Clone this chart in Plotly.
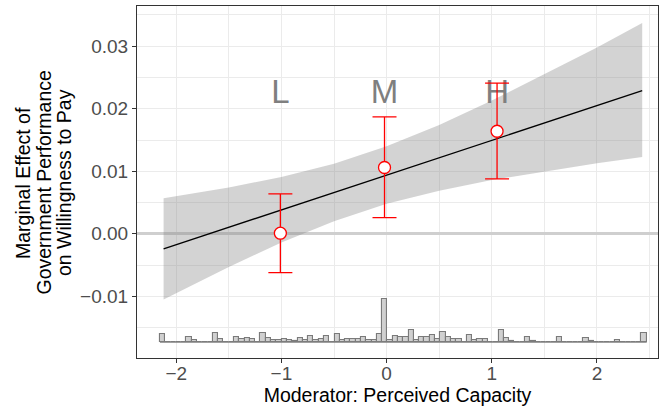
import plotly.graph_objects as go

# ---- data ----
line_x = [-2.12, 2.43]
line_y = [-0.0024, 0.0229]

band_x = [-2.12, -1.5, -1.0, -0.5, 0.0, 0.5, 1.0, 1.5, 2.0, 2.43]
band_lower = [-0.0105, -0.0053, -0.0014, 0.0020, 0.0048, 0.0069, 0.0086, 0.0100, 0.0113, 0.0123]
band_upper = [0.0057, 0.0074, 0.0091, 0.0112, 0.0140, 0.0174, 0.0213, 0.0255, 0.0298, 0.0337]

bin_labels = ["L", "M", "H"]
bin_x = [-1.01, -0.02, 1.05]
bin_est = [0.0001, 0.0106, 0.0164]
bin_lower = [-0.0062, 0.0026, 0.0088]
bin_upper = [0.0064, 0.0187, 0.0241]
label_y = [0.0222, 0.0222, 0.0222]

hist_left = -2.155
hist_width = 0.0503
hist_counts = [12, 0, 0, 0, 0, 8, 3, 0, 0, 0,
               14, 5, 0, 0, 7, 5, 6, 5, 0, 14,
               6, 3, 3, 5, 3, 2, 6, 4, 9, 3,
               5, 9, 1, 12, 3, 5, 5, 5, 7, 3,
               3, 12, 64, 3, 9, 8, 7, 18, 3, 8,
               7, 11, 5, 15, 8, 5, 5, 0, 10, 4,
               5, 5, 0, 0, 18, 6, 2, 0, 0, 8,
               2, 1, 0, 0, 0, 7, 0, 0, 0, 0,
               6, 2, 1, 0, 0, 0, 3, 0, 0, 0,
               0, 13]

x_ticks = [-2, -1, 0, 1, 2]
y_ticks = [-0.01, 0.0, 0.01, 0.02, 0.03]

# ---- derived ----
hist_centers = [hist_left + hist_width * (i + 0.5) for i in range(len(hist_counts))]
hist_end = hist_left + hist_width * len(hist_counts)
err_plus = [u - e for u, e in zip(bin_upper, bin_est)]
err_minus = [e - l for e, l in zip(bin_est, bin_lower)]

FONT = "Liberation Sans, Arial, sans-serif"

fig = go.Figure()

# histogram (secondary axis)
fig.add_trace(go.Scatter(
    x=[hist_left, hist_end], y=[0, 0], yaxis="y2", mode="lines",
    line=dict(color="#808080", width=1.3), hoverinfo="skip", showlegend=False))
fig.add_trace(go.Bar(
    x=hist_centers, y=hist_counts, yaxis="y2", width=hist_width,
    marker=dict(color="#d0d0d0", line=dict(color="#7a7a7a", width=1.1)),
    showlegend=False))

# confidence band
fig.add_trace(go.Scatter(
    x=band_x + band_x[::-1], y=band_upper + band_lower[::-1],
    fill="toself", fillcolor="rgba(128,128,128,0.35)", mode="lines",
    line=dict(width=0), hoverinfo="skip", showlegend=False))

# marginal-effect line
fig.add_trace(go.Scatter(
    x=line_x, y=line_y, mode="lines",
    line=dict(color="black", width=1.3), showlegend=False))

# L / M / H labels
fig.add_trace(go.Scatter(
    x=bin_x, y=label_y, mode="text", text=bin_labels,
    textfont=dict(family=FONT, size=33, color="#7f7f7f"),
    textposition="middle center", showlegend=False))

# binned estimates
fig.add_trace(go.Scatter(
    x=bin_x, y=bin_est, mode="markers",
    marker=dict(size=12, color="white", line=dict(color="red", width=1.3)),
    error_y=dict(type="data", symmetric=False, array=err_plus, arrayminus=err_minus,
                 color="red", thickness=1.3, width=12),
    showlegend=False))

grid_major = "#ebebeb"
fig.update_layout(
    width=659, height=409,
    margin=dict(l=137, r=1, t=6, b=51),
    paper_bgcolor="white", plot_bgcolor="white",
    font=dict(family=FONT, color="#4d4d4d"),
    xaxis=dict(
        range=[-2.373, 2.58], tickvals=x_ticks, ticktext=["\u22122", "\u22121", "0", "1", "2"],
        showgrid=True, gridcolor=grid_major, gridwidth=1.1,
        minor=dict(dtick=0.5, tick0=0, showgrid=True, gridcolor=grid_major, gridwidth=0.6),
        zeroline=False, showline=True, mirror=True, linecolor="#333333", linewidth=1.1,
        ticks="outside", ticklen=4, tickcolor="#333333", tickwidth=1.1,
        ticklabelstandoff=-6,
        tickfont=dict(size=19, color="#4d4d4d"),
        title=dict(text="Moderator: Perceived Capacity", font=dict(size=19.5, color="black"), standoff=2),
    ),
    yaxis=dict(
        range=[-0.01986, 0.03643], tickvals=y_ticks, tickformat=".2f",
        showgrid=True, gridcolor=grid_major, gridwidth=1.1,
        minor=dict(dtick=0.005, tick0=0, showgrid=True, gridcolor=grid_major, gridwidth=0.6),
        zeroline=True, zerolinecolor="#cfcfcf", zerolinewidth=3,
        showline=True, mirror=True, linecolor="#333333", linewidth=1.1,
        ticks="outside", ticklen=4, tickcolor="#333333", tickwidth=1.1,
        tickfont=dict(size=19, color="#4d4d4d"),
    ),
    yaxis2=dict(
        overlaying="y", range=[-23.7, 503.3], visible=False, showgrid=False, zeroline=False,
    ),
    bargap=0,
)

# multi-line y title as three rotated annotations
ytitle_lines = ["Marginal Effect of", "Government Performance", "on Willingness to Pay"]
ytitle_px = [23, 43.5, 64]
for txt, px in zip(ytitle_lines, ytitle_px):
    fig.add_annotation(
        text=txt, textangle=-90, xref="paper", yref="paper",
        x=0, xshift=px - 137, y=0.5, yshift=-1,
        showarrow=False, xanchor="center", yanchor="middle",
        font=dict(family=FONT, size=19.5, color="black"))

fig.write_html("out.html", config={"displayModeBar": False},
               post_script="document.body.style.margin='0';document.body.style.overflow='hidden';")
